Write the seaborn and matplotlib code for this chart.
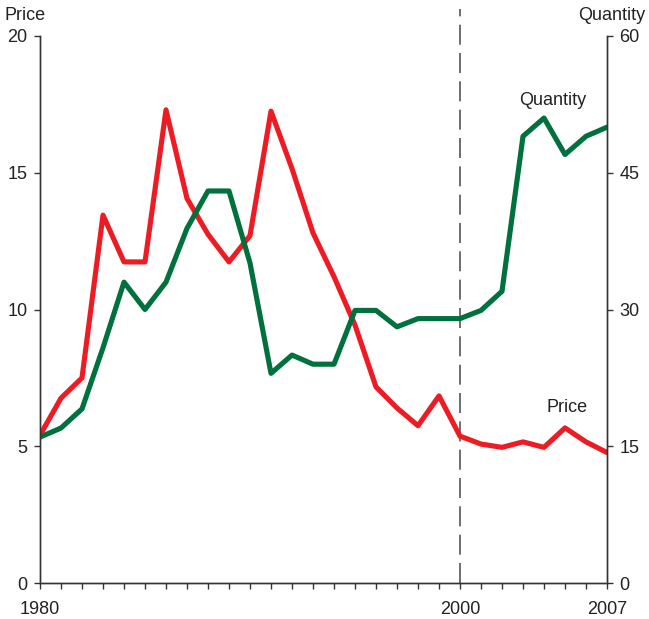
import numpy as np
import pandas as pd
import matplotlib
matplotlib.use("Agg")
import matplotlib.pyplot as plt
import seaborn as sns

years = list(range(1980, 2008))
price = [5.4, 6.76, 7.5, 13.45, 11.74, 11.74, 17.3, 14.06, 12.75, 11.74, 12.7,
         17.25, 15.15, 12.8, 11.2, 9.43, 7.17, 6.4, 5.75, 6.84, 5.37, 5.08,
         4.96, 5.16, 4.96, 5.67, 5.16, 4.77]
quantity = [16.0, 17.0, 19.1, 25.8, 33.0, 30.0, 33.0, 38.9, 43.0, 43.0, 35.1,
            23.0, 25.0, 24.0, 24.0, 29.9, 29.9, 28.1, 29.0, 29.0, 29.0, 29.9,
            32.0, 49.0, 51.0, 47.0, 49.0, 50.0]
xlabels = {1980: "1980", 2000: "2000", 2007: "2007"}

df = pd.DataFrame({"year": years, "price": price, "quantity": quantity})

sns.set_style("ticks")
plt.rcParams["font.family"] = ["Liberation Sans", "DejaVu Sans"]

RED = "#ED1C24"
GREEN = "#00703C"
AXC = "#333333"
TXT = "#222222"
FS = 13

fig = plt.figure(figsize=(6.49, 6.19), dpi=100)
ax = fig.add_axes([40 / 649, 1 - 583 / 619, 567 / 649, 547 / 619])
ax2 = ax.twinx()

sns.lineplot(data=df, x="year", y="price", ax=ax, color=RED, lw=3.7)
sns.lineplot(data=df, x="year", y="quantity", ax=ax2, color=GREEN, lw=3.7)

ax.set_xlim(1980, 2007)
ax.set_ylim(0, 20)
ax2.set_ylim(0, 60)
ax.set_yticks([0, 5, 10, 15, 20])
ax2.set_yticks([0, 15, 30, 45, 60])
ax.set_xticks(years)
ax.set_xticklabels([xlabels.get(y, "") for y in years])

for a in (ax, ax2):
    a.set_xlabel("")
    a.set_ylabel("")
    a.spines["top"].set_visible(False)
    for s in a.spines.values():
        s.set_color(AXC)
        s.set_linewidth(1.0)
    a.tick_params(colors=AXC, labelcolor=TXT, length=4.5, width=1.0,
                  labelsize=FS, pad=4.5)
ax.tick_params(axis="x", pad=8.5)

ax.axvline(2000, ymin=0, ymax=(583 - 9) / 547, color="#555555", lw=1.2,
           ls=(0, (12, 5)), clip_on=False, zorder=0)

ax.text(-0.062, 1.022, "Price", transform=ax.transAxes, fontsize=FS,
        ha="left", va="bottom", color=TXT)
ax.text(1.067, 1.022, "Quantity", transform=ax.transAxes, fontsize=FS,
        ha="right", va="bottom", color=TXT)
ax2.text(2004.4, 52.9, "Quantity", fontsize=FS, ha="center", va="center",
         color=TXT)
ax.text(2005.1, 6.4, "Price", fontsize=FS, ha="center", va="center",
        color=TXT)

fig.savefig("out.png", dpi=100)
